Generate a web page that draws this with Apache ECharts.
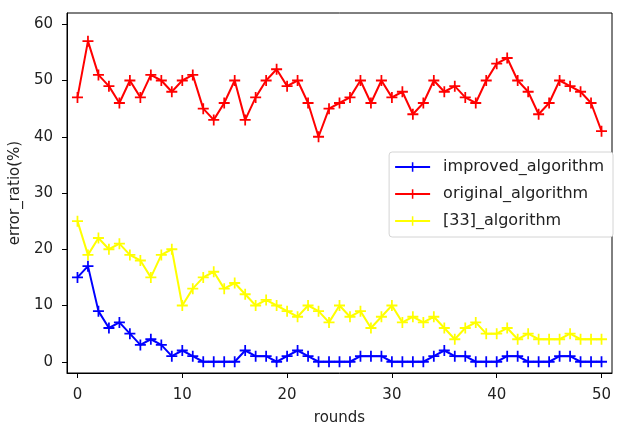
<!DOCTYPE html>
<html>
<head>
<meta charset="utf-8">
<script src="https://cdn.jsdelivr.net/npm/echarts@6/dist/echarts.min.js"></script>
<style>
  html, body { margin: 0; padding: 0; background: #fff; }
  #chart { width: 618px; height: 424px; }
</style>
</head>
<body>
<div id="chart"></div>
<script>
// rounds 0..50
var rounds = [];
for (var r = 0; r <= 50; r++) rounds.push(r);

var improved = [15, 17, 9, 6, 7, 5, 3, 4, 3, 1, 2, 1, 0, 0, 0, 0, 2, 1, 1, 0,
  1, 2, 1, 0, 0, 0, 0, 1, 1, 1, 0, 0, 0, 0, 1, 2, 1, 1, 0, 0,
  0, 1, 1, 0, 0, 0, 1, 1, 0, 0, 0];
var original = [47, 57, 51, 49, 46, 50, 47, 51, 50, 48, 50, 51, 45, 43, 46, 50, 43, 47, 50, 52,
  49, 50, 46, 40, 45, 46, 47, 50, 46, 50, 47, 48, 44, 46, 50, 48, 49, 47, 46, 50,
  53, 54, 50, 48, 44, 46, 50, 49, 48, 46, 41];
var ref33 = [25, 19, 22, 20, 21, 19, 18, 15, 19, 20, 10, 13, 15, 16, 13, 14, 12, 10, 11, 10,
  9, 8, 10, 9, 7, 10, 8, 9, 6, 8, 10, 7, 8, 7, 8, 6, 4, 6, 7, 5,
  5, 6, 4, 5, 4, 4, 4, 5, 4, 4, 4];

var xTicks = [0, 10, 20, 30, 40, 50];
var yTicks = [0, 10, 20, 30, 40, 50, 60];

var plus = 'path://M4.2,0 H5.8 V4.2 H10 V5.8 H5.8 V10 H4.2 V5.8 H0 V4.2 H4.2 Z';

function pairs(vals) {
  return vals.map(function (v, i) { return [rounds[i], v]; });
}

function makeSeries(name, vals, color) {
  return {
    name: name,
    type: 'line',
    data: pairs(vals),
    symbol: plus,
    symbolSize: 11,
    showAllSymbol: true,
    lineStyle: { color: color, width: 2 },
    itemStyle: { color: color },
    emphasis: { disabled: true }
  };
}

var chart = echarts.init(document.getElementById('chart'), null, { renderer: 'canvas' });
chart.setOption({
  animation: false,
  textStyle: { fontFamily: 'DejaVu Sans' },
  grid: {
    left: 67, right: 6, top: 13, bottom: 51,
    outerBoundsMode: 'none',
    containLabel: false,
    show: true, borderColor: '#000', borderWidth: 1
  },
  legend: {
    orient: 'vertical',
    right: 5,
    top: 152,
    padding: [7, 9, 8, 5],
    itemGap: 11,
    itemWidth: 35,
    itemHeight: 12,
    backgroundColor: '#fff',
    borderColor: '#d4d4d4',
    borderWidth: 1,
    borderRadius: 3,
    textStyle: { fontSize: 16, color: '#222', fontFamily: 'DejaVu Sans', padding: [0, 0, 0, 8] },
    data: ['improved_algorithm', 'original_algorithm', '[33]_algorithm']
  },
  xAxis: {
    type: 'value',
    min: -1,
    max: 51,
    name: 'rounds',
    nameLocation: 'middle',
    nameGap: 38,
    nameTextStyle: { fontSize: 15, color: '#222' },
    axisLine: { show: true, onZero: false, lineStyle: { color: '#000', width: 1 } },
    axisTick: { show: true, inside: false, length: 5, lineStyle: { color: '#000' }, customValues: xTicks },
    axisLabel: { fontSize: 15, color: '#222', margin: 15, customValues: xTicks },
    splitLine: { show: false }
  },
  yAxis: {
    type: 'value',
    min: -2,
    max: 62,
    name: 'error_ratio(%)',
    nameLocation: 'middle',
    nameGap: 37,
    nameTextStyle: { fontSize: 15, color: '#222' },
    axisLine: { show: true, onZero: false, lineStyle: { color: '#000', width: 1 } },
    axisTick: { show: true, inside: false, length: 5, lineStyle: { color: '#000' }, customValues: yTicks },
    axisLabel: { fontSize: 15, color: '#222', margin: 14, customValues: yTicks },
    splitLine: { show: false }
  },
  series: [
    makeSeries('improved_algorithm', improved, '#0000ff'),
    makeSeries('original_algorithm', original, '#ff0000'),
    makeSeries('[33]_algorithm', ref33, '#ffff00')
  ]
});
window.addEventListener('resize', function () { chart.resize(); });
</script>
</body>
</html>
